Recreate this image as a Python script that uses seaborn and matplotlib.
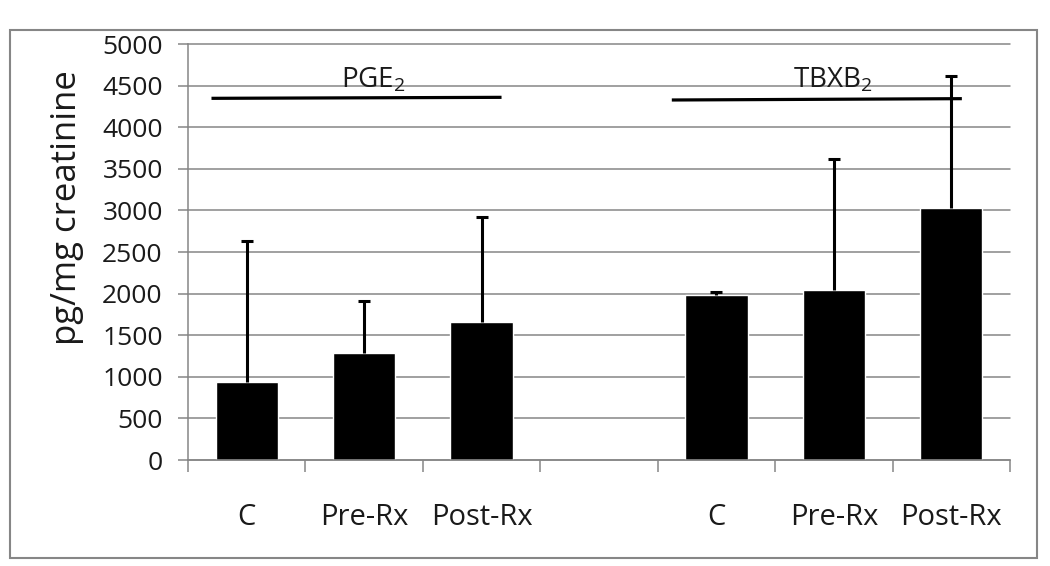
import matplotlib
matplotlib.use("Agg")
import matplotlib.pyplot as plt
from matplotlib.patches import Rectangle
import seaborn as sns
import pandas as pd
import numpy as np

# ---- data ----
slots = ["C_PGE", "Pre_PGE", "Post_PGE", "gap", "C_TBX", "Pre_TBX", "Post_TBX"]
tick_labels = ["C", "Pre-Rx", "Post-Rx", "", "C", "Pre-Rx", "Post-Rx"]
means = [940, 1290, 1660, np.nan, 1980, 2040, 3030]
err_plus = [1690, 620, 1260, np.nan, 35, 1580, 1590]

group_names = ["PGE$_2$", "TBXB$_2$"]
group_label_x = [1.08, 4.99]
group_label_y = [4475, 4475]
group_line_x = [(-0.30, 2.17), (3.62, 6.09)]
group_line_y = [(4347, 4359), (4327, 4343)]

y_ticks = list(range(0, 5001, 500))

# ---- style ----
sns.set_style("white")
plt.rcParams['font.family'] = ['Open Sans', 'DejaVu Sans']
plt.rcParams['mathtext.fontset'] = 'custom'
plt.rcParams['mathtext.rm'] = 'Open Sans'
plt.rcParams['mathtext.it'] = 'Open Sans'
plt.rcParams['mathtext.default'] = 'regular'

GRAY = '#868686'
TXT = '#1a1a1a'

fig = plt.figure(figsize=(10.5, 5.66), dpi=100)
fig.patch.set_facecolor('white')
ax = fig.add_axes([188/1050, 1 - 460/566, 822/1050, 416/566])

df = pd.DataFrame({"slot": slots, "value": means})
sns.barplot(data=df, x="slot", y="value", order=slots, color="black",
            saturation=1, width=0.53, errorbar=None, ax=ax, zorder=2)

xpos = np.arange(len(slots))
m = np.array(means, dtype=float)
e = np.array(err_plus, dtype=float)
eb = ax.errorbar(xpos, m, yerr=[np.zeros_like(e), e], fmt='none', ecolor='black',
                 elinewidth=2.2, capsize=4.3, capthick=2.2, zorder=3)
# only upper caps (plus-only error bars)
caplines = eb.lines[1]
if len(caplines) >= 2:
    caplines[0].set_visible(False)

# group annotations
for name, lx, ly, (x0, x1), (y0, y1) in zip(group_names, group_label_x, group_label_y,
                                             group_line_x, group_line_y):
    ax.plot([x0, x1], [y0, y1], color='black', lw=2.3, solid_capstyle='butt', zorder=4)
    ax.text(lx, ly, name, ha='center', va='baseline', fontsize=20, color=TXT, zorder=5)

ax.set_xlim(-0.5, 6.5)
ax.set_ylim(0, 5000)
ax.set_yticks(y_ticks)
ax.set_yticklabels([str(v) for v in y_ticks])
ax.set_xticks(xpos)
ax.set_xticklabels(tick_labels)
ax.set_xticks(np.arange(-0.5, 7.0, 1.0), minor=True)

ax.yaxis.grid(True, color=GRAY, lw=1.1)
ax.xaxis.grid(False)
ax.set_axisbelow(True)
for gl in ax.yaxis.get_gridlines():
    gl.set_clip_on(False)

for s in ['top', 'right']:
    ax.spines[s].set_visible(False)
for s in ['left', 'bottom']:
    ax.spines[s].set_color(GRAY)
    ax.spines[s].set_linewidth(1.1)

ax.tick_params(axis='y', which='major', length=7.2, width=1.1, color=GRAY,
               labelsize=19, labelcolor=TXT, pad=11, direction='out', left=True)
ax.tick_params(axis='x', which='major', length=0, labelsize=21, labelcolor=TXT, pad=31)
ax.tick_params(axis='x', which='minor', length=8.6, width=1.1, color=GRAY,
               direction='out', bottom=True)

ax.set_xlabel("")
ax.set_ylabel("pg/mg creatinine", fontsize=25, color=TXT)
ax.yaxis.set_label_coords(-0.127, 0.608)

# outer chart border
fig.patches.append(Rectangle((10/1050, 1 - 558/566), 1027/1050, 528/566,
                             transform=fig.transFigure, fill=False,
                             edgecolor=GRAY, lw=1.5, zorder=0))

fig.savefig("out.png", dpi=100, facecolor='white')
